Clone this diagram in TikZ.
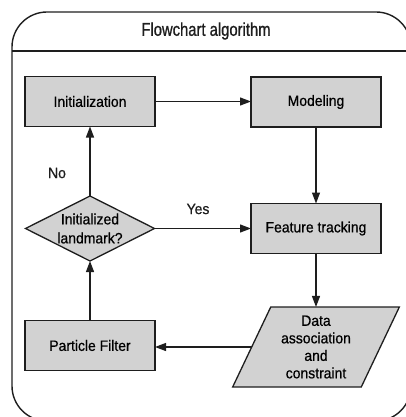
\documentclass[tikz,border=0pt]{standalone}
\usepackage{fontspec}
\setmainfont{Liberation Sans}
\newfontfamily\boxfont[FakeStretch=0.93,FakeBold=0.6]{Liberation Sans}
\newfontfamily\titlefont[FakeStretch=0.8,FakeBold=0.9]{Liberation Sans}
\usetikzlibrary{shapes.geometric,arrows.meta}

\definecolor{ink}{HTML}{1E1E1E}
\definecolor{boxfill}{HTML}{D2D2D2}

\tikzset{
  every node/.style={inner sep=0pt, outer sep=0pt},
  procbox/.style={draw=ink, line width=1.3pt, fill=boxfill,
    minimum width=130pt, minimum height=50pt,
    font=\boxfont\fontsize{15}{17.5}\selectfont, align=center},
  decision/.style={draw=ink, line width=1.3pt, fill=boxfill, diamond, aspect=2,
    minimum width=129pt, minimum height=65pt,
    font=\boxfont\fontsize{15}{19}\selectfont, align=center},
  iobox/.style={draw=ink, line width=1.3pt, fill=boxfill, trapezium,
    trapezium left angle=65, trapezium right angle=115, trapezium stretches=true,
    minimum width=167pt, minimum height=80pt,
    font=\boxfont\fontsize{15}{17.5}\selectfont, align=center},
  flow/.style={draw=ink, line width=1.2pt, -{Triangle[length=11pt,width=8pt]}},
  tag/.style={font=\boxfont\fontsize{15}{17.5}\selectfont, text=ink},
}

\begin{document}
\begin{tikzpicture}[x=1pt,y=-1pt]
  \useasboundingbox (0,0) rectangle (406,417);

  % outer frame with title bar
  \draw[ink, line width=1.4pt, rounded corners=35pt] (12,12) rectangle (411,421);
  \coordinate (barL) at (12,51);
  \coordinate (barR) at (411,51);
  \draw[ink, line width=1.4pt] (barL) -- (barR);
  \node[font=\titlefont\fontsize{18.5}{20}\selectfont, text=ink] (title) at (206,31) {Flowchart algorithm};

  % steps
  \node[procbox] (init)  at (90,101.5)  {Initialization};
  \node[procbox] (model) at (316,102)   {Modeling};
  \node[procbox] (feat)  at (316,228.5) {Feature tracking};
  \node[decision] (check) at (90,228.5) {Initialized\\landmark?};
  \node[procbox] (pf)    at (90,345.5)  {Particle Filter};
  \node[iobox]   (data)  at (316,347)   {Data\\association\\and\\constraint};

  % connectors
  \draw[flow] (init.east) -- (init.east -| model.west);
  \draw[flow] (model.south) -- (model.south |- feat.north);
  \draw[flow] (check.east) -- (check.east -| feat.west);
  \draw[flow] (check.north) -- (init.south);
  \draw[flow] (feat.south) -- (feat.south |- data.north);
  \draw[flow] (data.west) -- (data.west -| pf.east);
  \draw[flow] (pf.north) -- (check.south);

  % branch labels
  \node[tag] (yes) at (198,209) {Yes};
  \node[tag] (no)  at (57,173)  {No};
\end{tikzpicture}
\end{document}
